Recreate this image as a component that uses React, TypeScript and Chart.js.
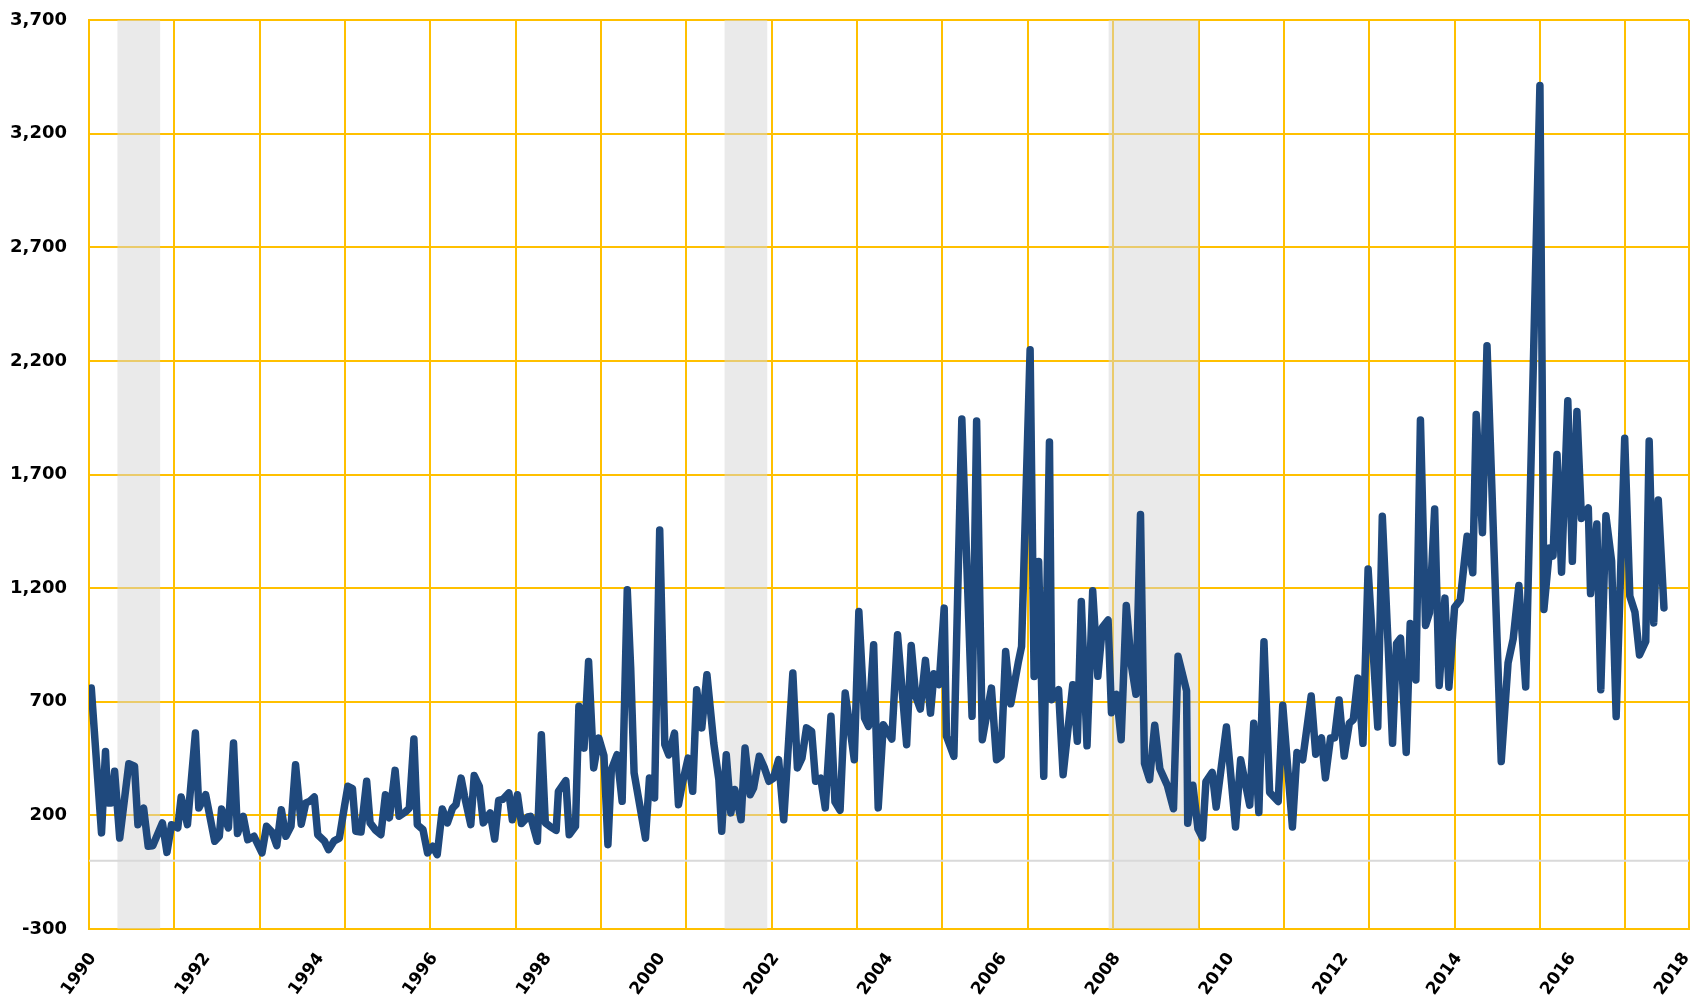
import React, { useEffect, useRef } from "react";
import { Chart, registerables } from "chart.js";

Chart.register(...registerables);

const dates: number[] = [
  1990.04, 1990.22, 1990.29, 1990.33, 1990.39, 1990.45, 1990.54, 1990.70, 1990.80, 1990.86,
  1990.96, 1991.04, 1991.12, 1991.29, 1991.37, 1991.45, 1991.56, 1991.62, 1991.73, 1991.87,
  1991.93, 1992.05, 1992.21, 1992.29, 1992.33, 1992.45, 1992.54, 1992.61, 1992.71, 1992.79,
  1992.90, 1993.04, 1993.12, 1993.22, 1993.30, 1993.38, 1993.46, 1993.55, 1993.63, 1993.73,
  1993.81, 1993.88, 1993.96, 1994.02, 1994.14, 1994.21, 1994.31, 1994.40, 1994.49, 1994.55,
  1994.63, 1994.69, 1994.78, 1994.88, 1994.94, 1995.04, 1995.13, 1995.21, 1995.28, 1995.38,
  1995.45, 1995.56, 1995.63, 1995.71, 1995.77, 1995.87, 1995.95, 1996.04, 1996.12, 1996.21,
  1996.30, 1996.39, 1996.45, 1996.54, 1996.60, 1996.71, 1996.77, 1996.86, 1996.93, 1997.05,
  1997.13, 1997.20, 1997.27, 1997.38, 1997.44, 1997.53, 1997.60, 1997.71, 1997.76, 1997.88,
  1997.95, 1998.02, 1998.10, 1998.21, 1998.25, 1998.38, 1998.44, 1998.55, 1998.61, 1998.70,
  1998.78, 1998.87, 1998.96, 1999.05, 1999.12, 1999.18, 1999.28, 1999.37, 1999.46, 1999.52,
  1999.58, 1999.78, 1999.85, 1999.94, 2000.03, 2000.12, 2000.19, 2000.29, 2000.36, 2000.43,
  2000.53, 2000.61, 2000.68, 2000.77, 2000.86, 2000.98, 2001.07, 2001.12, 2001.20, 2001.28,
  2001.35, 2001.46, 2001.53, 2001.62, 2001.68, 2001.78, 2001.87, 2001.95, 2002.03, 2002.12,
  2002.21, 2002.37, 2002.45, 2002.53, 2002.61, 2002.70, 2002.77, 2002.86, 2002.94, 2003.04,
  2003.11, 2003.20, 2003.29, 2003.45, 2003.53, 2003.63, 2003.70, 2003.79, 2003.87, 2003.96,
  2004.11, 2004.21, 2004.37, 2004.45, 2004.53, 2004.61, 2004.70, 2004.79, 2004.85, 2004.94,
  2005.03, 2005.07, 2005.20, 2005.34, 2005.52, 2005.60, 2005.70, 2005.86, 2005.95, 2006.03,
  2006.11, 2006.20, 2006.33, 2006.39, 2006.54, 2006.61, 2006.69, 2006.78, 2006.88, 2006.92,
  2007.04, 2007.12, 2007.29, 2007.37, 2007.44, 2007.54, 2007.64, 2007.73, 2007.81, 2007.91,
  2007.97, 2008.06, 2008.14, 2008.23, 2008.32, 2008.40, 2008.48, 2008.55, 2008.64, 2008.73,
  2008.82, 2008.95, 2009.06, 2009.14, 2009.29, 2009.31, 2009.40, 2009.49, 2009.57, 2009.63,
  2009.74, 2009.81, 2009.99, 2010.15, 2010.24, 2010.40, 2010.47, 2010.56, 2010.65, 2010.75,
  2010.90, 2010.98, 2011.15, 2011.23, 2011.33, 2011.48, 2011.56, 2011.66, 2011.73, 2011.82,
  2011.89, 2011.97, 2012.06, 2012.15, 2012.22, 2012.30, 2012.39, 2012.48, 2012.65, 2012.73,
  2012.91, 2012.98, 2013.05, 2013.15, 2013.22, 2013.32, 2013.40, 2013.49, 2013.56, 2013.65,
  2013.73, 2013.83, 2013.90, 2014.00, 2014.10, 2014.22, 2014.32, 2014.38, 2014.49, 2014.57,
  2014.82, 2014.94, 2015.03, 2015.13, 2015.25, 2015.50, 2015.57, 2015.67, 2015.73, 2015.80,
  2015.88, 2015.99, 2016.07, 2016.15, 2016.23, 2016.35, 2016.39, 2016.50, 2016.57, 2016.66,
  2016.76, 2016.84, 2016.99, 2017.08, 2017.17, 2017.25, 2017.36, 2017.42, 2017.50, 2017.58,
  2017.68,
];

const values: number[] = [
  760, 123, 481, 255, 255, 394, 100, 427, 416, 159,
  232, 64, 66, 167, 37, 159, 145, 281, 159, 562,
  232, 291, 86, 108, 228, 145, 518, 120, 196, 93,
  108, 35, 152, 125, 67, 225, 108, 152, 423, 161,
  255, 262, 281, 115, 86, 49, 88, 100, 240, 328,
  318, 130, 127, 350, 167, 134, 115, 291, 189, 398,
  196, 215, 232, 536, 159, 137, 35, 64, 27, 228,
  167, 232, 247, 364, 284, 159, 375, 328, 167, 211,
  96, 266, 270, 299, 181, 291, 164, 193, 196, 86,
  555, 167, 152, 134, 306, 353, 115, 152, 680, 496,
  877, 409, 540, 463, 71, 400, 467, 262, 1193, 850,
  387, 100, 364, 277, 1456, 511, 466, 562, 247, 342,
  452, 306, 753, 585, 819, 518, 357, 130, 467, 211,
  314, 181, 496, 291, 320, 460, 409, 350, 364, 445,
  181, 826, 409, 452, 585, 570, 350, 364, 233, 636,
  260, 222, 738, 445, 1097, 628, 592, 951, 233, 599,
  536, 995, 511, 948, 723, 668, 882, 650, 823, 775,
  1112, 548, 460, 1944, 636, 1935, 533, 760, 445, 460,
  921, 691, 870, 943, 2249, 811, 1317, 372, 1843, 709,
  753, 379, 775, 526, 1141, 506, 1188, 812, 1028, 1060,
  652, 733, 533, 1124, 860, 733, 1524, 429, 357, 597,
  405, 333, 229, 900, 748, 165, 333, 141, 101, 349,
  389, 237, 589, 149, 445, 245, 605, 213, 964, 301,
  261, 685, 149, 477, 445, 725, 469, 541, 365, 541,
  541, 708, 461, 605, 621, 804, 517, 1284, 589, 1516,
  517, 956, 980, 477, 1044, 796, 1940, 1036, 1092, 1548,
  772, 1156, 764, 1116, 1148, 1428, 1268, 1964, 1444, 2267,
  437, 871, 976, 1212, 765, 3412, 1106, 1376, 1341, 1788,
  1270, 2024, 1318, 1977, 1506, 1553, 1176, 1482, 753, 1518,
  1318, 635, 1859, 1165, 1094, 906, 965, 1847, 1047, 1588,
  1113,
];

const xLabelYears: number[] = [1990, 1992, 1994, 1996, 1998, 2000, 2002, 2004, 2006, 2008, 2010, 2012, 2014, 2016, 2018];
const xGridYears: number[] = [1990, 1991.5, 1993, 1994.5, 1996, 1997.5, 1999, 2000.5, 2002, 2003.5, 2005, 2006.5, 2008, 2009.5, 2011, 2012.5, 2014, 2015.5, 2017];
const yTickValues: number[] = [-300, 200, 700, 1200, 1700, 2200, 2700, 3200, 3700];
const recessionStart: number[] = [1990.5, 2001.17, 2007.92];
const recessionEnd: number[] = [1991.25, 2001.92, 2009.5];

const X_MIN = 1990;
const X_MAX = 2018.12;
const GOLD = "#FFC000";
const NAVY = "#1F497D";

const near = (a: number, b: number) => Math.abs(a - b) < 1e-6;

const bandsPlugin = {
  id: "recessionBands",
  beforeDatasetsDraw(chart: any) {
    const { ctx, chartArea, scales } = chart;
    const xs = scales.x;
    const ys = scales.y;
    ctx.save();
    ctx.beginPath();
    ctx.rect(chartArea.left, chartArea.top, chartArea.right - chartArea.left, chartArea.bottom - chartArea.top);
    ctx.clip();
    ctx.fillStyle = "rgba(214,214,214,0.5)";
    for (let i = 0; i < recessionStart.length; i++) {
      const a = xs.getPixelForValue(recessionStart[i]);
      const b = xs.getPixelForValue(recessionEnd[i]);
      ctx.fillRect(a, chartArea.top, b - a, chartArea.bottom - chartArea.top);
    }
    const y0 = ys.getPixelForValue(0);
    ctx.strokeStyle = "#D9D9D9";
    ctx.lineWidth = 2;
    ctx.beginPath();
    ctx.moveTo(chartArea.left, y0);
    ctx.lineTo(chartArea.right, y0);
    ctx.stroke();
    ctx.restore();
  },
};

export default function App() {
  const canvasRef = useRef<HTMLCanvasElement | null>(null);

  useEffect(() => {
    if (!canvasRef.current) return;
    const points = dates.map((d, i) => ({ x: d, y: values[i] }));
    const xTickSet = Array.from(new Set([...xGridYears, ...xLabelYears, X_MAX])).sort((a, b) => a - b);

    const chart = new Chart(canvasRef.current, {
      type: "scatter",
      data: {
        datasets: [
          {
            data: points,
            showLine: true,
            borderColor: NAVY,
            backgroundColor: NAVY,
            borderWidth: 7.5,
            pointRadius: 0,
            pointHoverRadius: 0,
            tension: 0,
            borderJoinStyle: "round",
            borderCapStyle: "round",
          } as any,
        ],
      },
      plugins: [bandsPlugin],
      options: {
        animation: false,
        responsive: false,
        devicePixelRatio: 1,
        layout: { padding: { top: 20, right: 14, left: 0, bottom: 0 } },
        plugins: { legend: { display: false }, tooltip: { enabled: false } },
        scales: {
          x: {
            type: "linear",
            min: X_MIN,
            max: X_MAX,
            afterBuildTicks: (scale: any) => {
              scale.ticks = xTickSet.map((v) => ({ value: v }));
            },
            afterFit: (scale: any) => {
              scale.height = 71;
              scale.paddingLeft = 0;
              scale.paddingRight = 0;
            },
            grid: {
              color: (ctx: any) => {
                const v = ctx.tick ? ctx.tick.value : NaN;
                return xGridYears.some((g) => near(g, v)) || near(v, X_MAX) ? GOLD : "rgba(0,0,0,0)";
              },
              lineWidth: 2,
              drawTicks: false,
            },
            border: { display: true, color: GOLD, width: 2 },
            ticks: {
              autoSkip: false,
              minRotation: 54,
              maxRotation: 54,
              padding: 20,
              labelOffset: 4,
              color: "#000000",
              font: { family: "'DejaVu Sans'", weight: "bold", size: 17 },
              callback: (value: any) => (xLabelYears.some((y) => near(y, Number(value))) ? String(Math.round(Number(value))) : ""),
            },
          },
          y: {
            type: "linear",
            min: -300,
            max: 3700,
            afterBuildTicks: (scale: any) => {
              scale.ticks = yTickValues.map((v) => ({ value: v }));
            },
            afterFit: (scale: any) => {
              scale.width = 89;
              scale.paddingTop = 0;
              scale.paddingBottom = 0;
            },
            grid: { color: GOLD, lineWidth: 2, drawTicks: false },
            border: { display: true, color: GOLD, width: 2 },
            ticks: {
              padding: 22,
              color: "#000000",
              font: { family: "'DejaVu Sans'", weight: "bold", size: 18 },
              callback: (value: any) => Number(value).toLocaleString("en-US"),
            },
          },
        },
      } as any,
    });
    return () => chart.destroy();
  }, []);

  return (
    <div style={{ position: "absolute", left: 0, top: 0, width: 1703, height: 1000, background: "#ffffff" }}>
      <canvas ref={canvasRef} width={1703} height={1000} style={{ display: "block", width: 1703, height: 1000 }} />
    </div>
  );
}
